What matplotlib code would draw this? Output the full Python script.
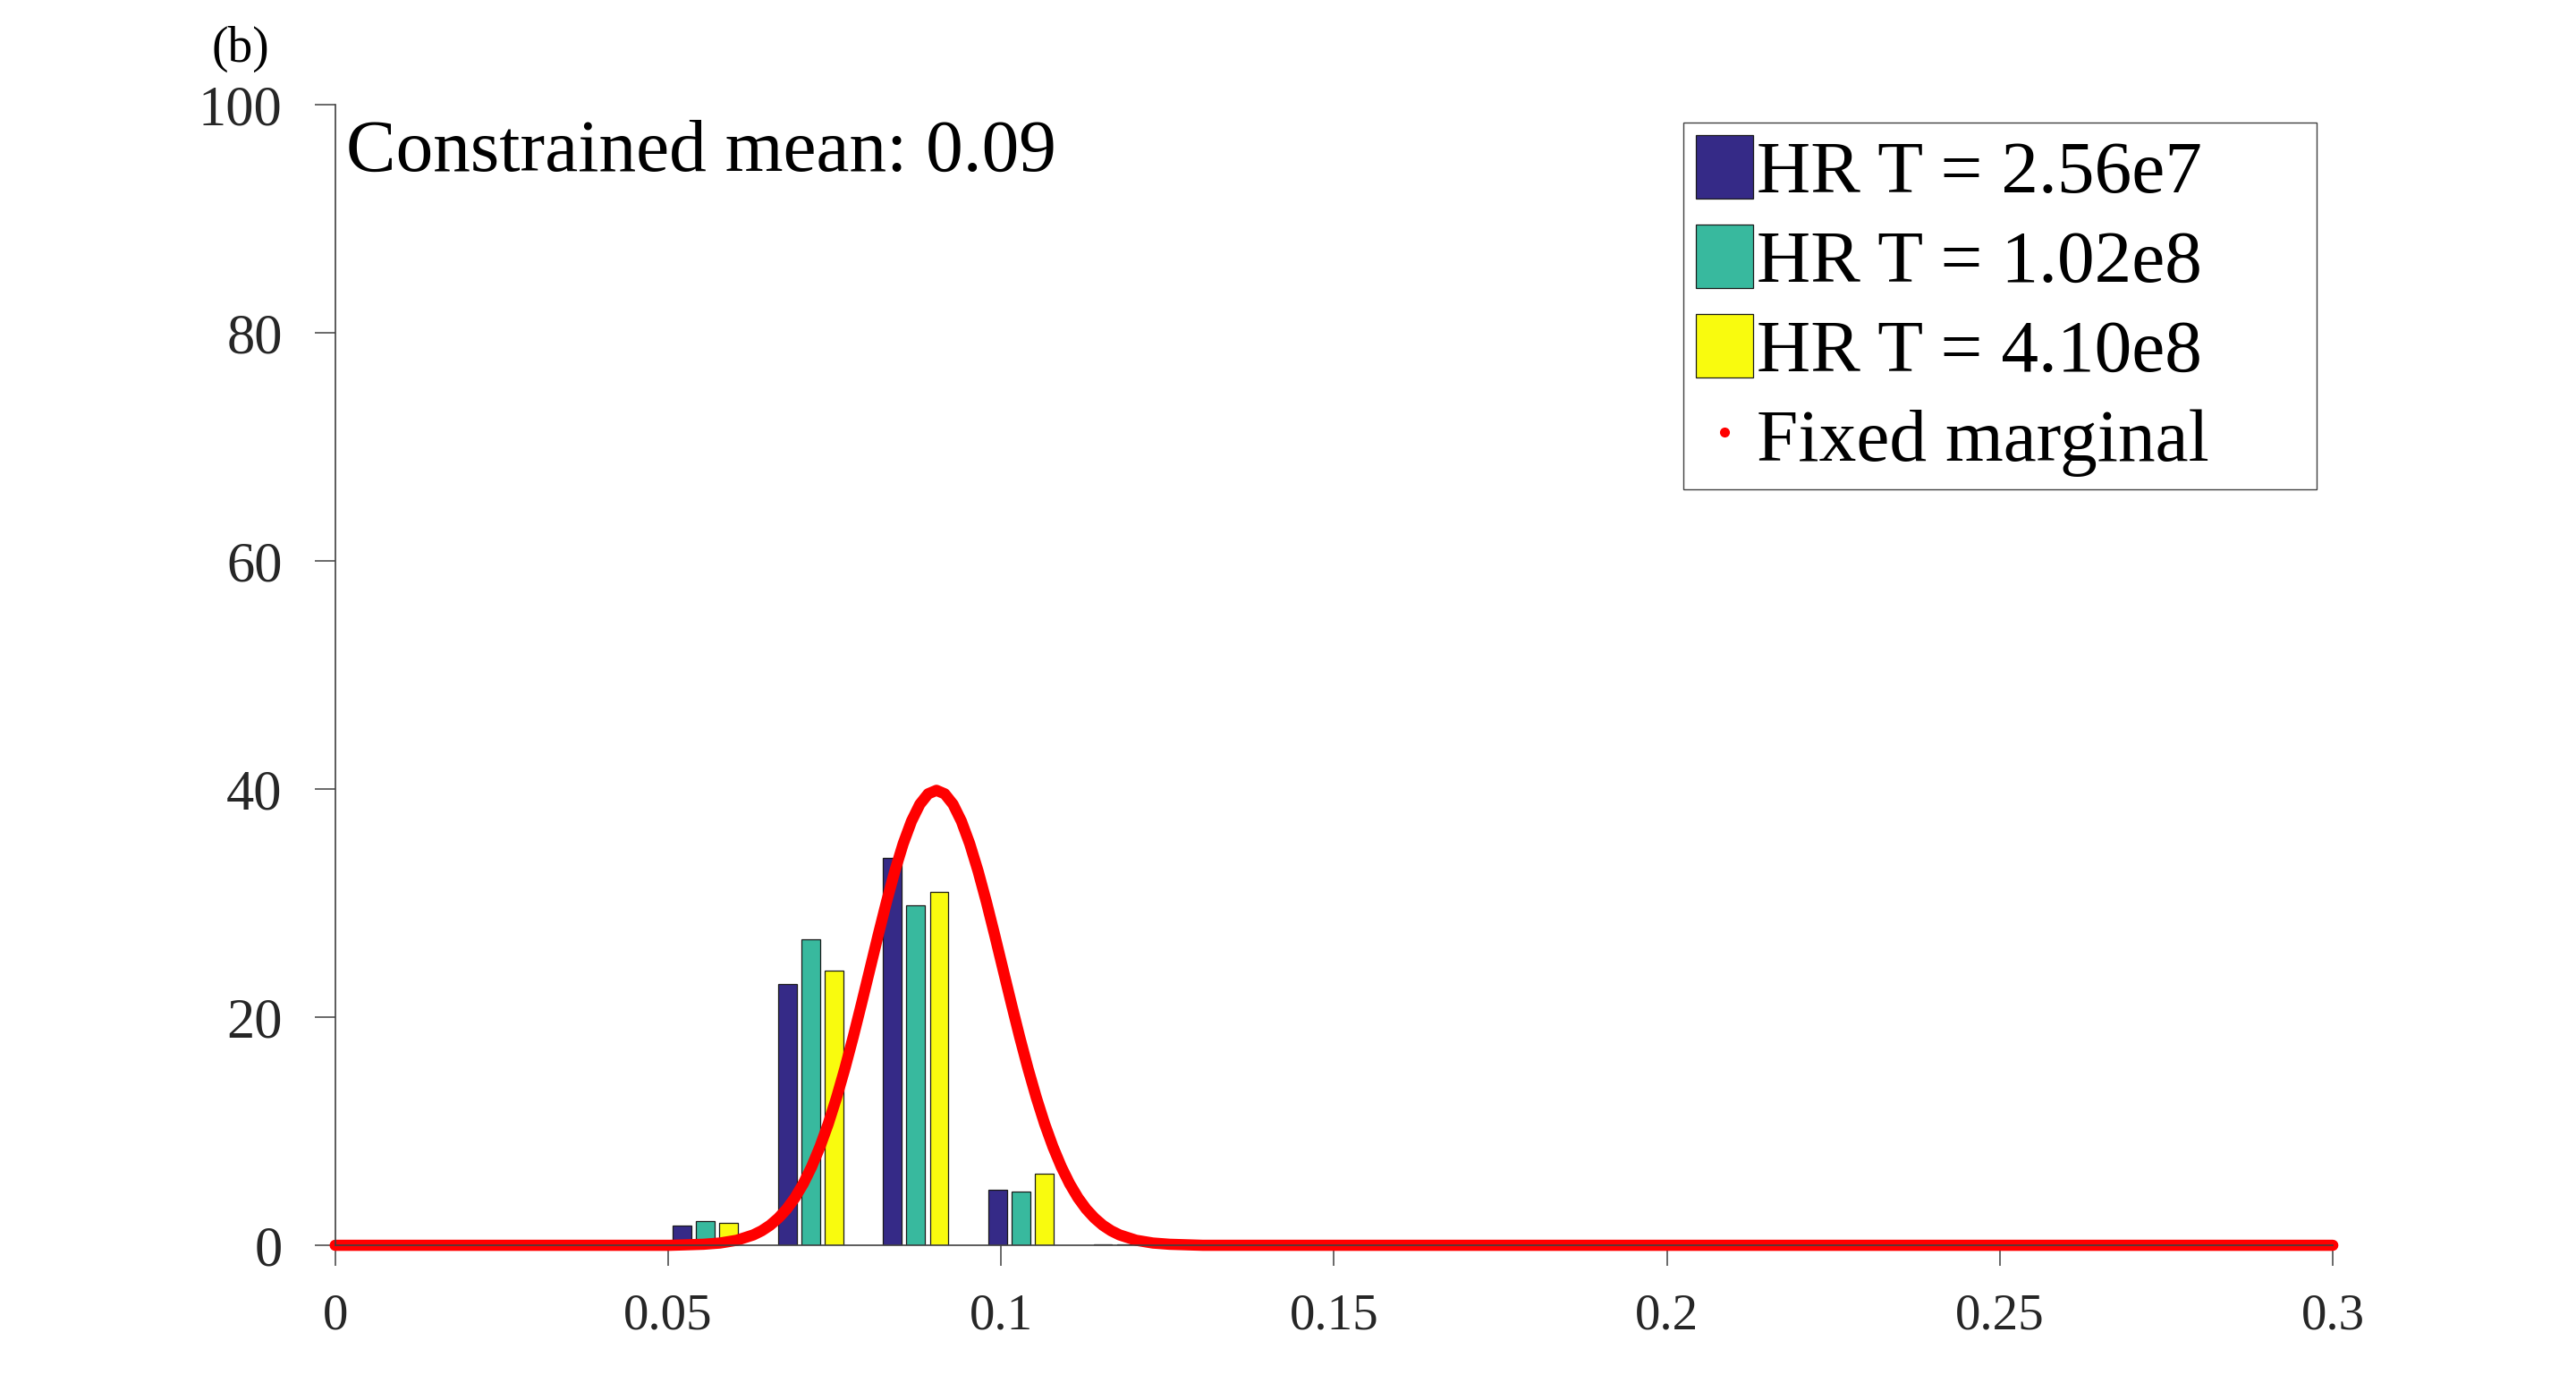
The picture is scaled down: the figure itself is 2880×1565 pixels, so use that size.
import matplotlib
matplotlib.use("Agg")
import matplotlib.pyplot as plt
from matplotlib.lines import Line2D
import numpy as np

plt.rcParams['font.family'] = ['Liberation Serif', 'DejaVu Serif']

# histogram bins (centre of each group of three bars)
bin_centers = [0.0556, 0.0714, 0.0872, 0.1030, 0.1188]
series_labels = ["HR T = 2.56e7", "HR T = 1.02e8", "HR T = 4.10e8"]
hr_256e7 = [1.7, 22.9, 34.0, 4.9, 0.12]
hr_102e8 = [2.1, 26.8, 29.8, 4.7, 0.06]
hr_410e8 = [2.0, 24.1, 31.0, 6.3, 0.0]

# fixed marginal density
curve_x = [0.0, 0.0503, 0.0553, 0.0578, 0.0603, 0.0628, 0.06405, 0.0653, 0.06655,
           0.0678, 0.06905, 0.0703, 0.07155, 0.0728, 0.07405, 0.0753, 0.07655,
           0.0778, 0.07905, 0.0803, 0.08155, 0.0828, 0.08405, 0.0853, 0.08655,
           0.0878, 0.08905, 0.0903, 0.09155, 0.0928, 0.09405, 0.0953, 0.09655,
           0.0978, 0.09905, 0.1003, 0.10155, 0.1028, 0.10405, 0.1053, 0.10655,
           0.1078, 0.10905, 0.1103, 0.11155, 0.1128, 0.11405, 0.1153, 0.11655,
           0.1178, 0.1203, 0.1228, 0.1253, 0.1303, 0.3]
curve_y = [0.0, 0.0, 0.09, 0.20, 0.44, 0.91, 1.27, 1.75, 2.38,
           3.17, 4.17, 5.40, 6.88, 8.63, 10.65, 12.95, 15.50,
           18.26, 21.19, 24.19, 27.20, 30.11, 32.81, 35.20, 37.18,
           38.66, 39.58, 39.89, 39.58, 38.66, 37.18, 35.20, 32.81,
           30.11, 27.20, 24.19, 21.19, 18.26, 15.50, 12.95, 10.65,
           8.63, 6.88, 5.40, 4.17, 3.17, 2.38, 1.75, 1.27,
           0.91, 0.44, 0.20, 0.09, 0.0, 0.0]

x_ticks = [0, 0.05, 0.1, 0.15, 0.2, 0.25, 0.3]
x_ticklabels = ["0", "0.05", "0.1", "0.15", "0.2", "0.25", "0.3"]
y_ticks = [0, 20, 40, 60, 80, 100]

COLORS = ["#352a87", "#38b99e", "#f9fb0e"]
BAR_WIDTH = 0.0028
BAR_STEP = 0.0035
AXIS_GREY = "#404040"

fig = plt.figure(figsize=(28.8, 15.65), dpi=100)
ax = fig.add_axes([0.1301, 0.1105, 0.7755, 0.8147])

centers = np.array(bin_centers)
for i, (vals, label) in enumerate(zip([hr_256e7, hr_102e8, hr_410e8], series_labels)):
    ax.bar(centers + (i - 1) * BAR_STEP, vals, BAR_WIDTH, color=COLORS[i],
           edgecolor="#1a1a1a", linewidth=0.9, label=label, zorder=1)

ax.plot(curve_x, curve_y, color="red", linewidth=9, solid_capstyle="round",
        solid_joinstyle="round", clip_on=False, zorder=2)

ax.set_xlim(0, 0.3)
ax.set_ylim(0, 100)
ax.set_xticks(x_ticks)
ax.set_xticklabels(x_ticklabels)
ax.set_yticks(y_ticks)
for side in ["top", "right"]:
    ax.spines[side].set_visible(False)
for side in ["left", "bottom"]:
    ax.spines[side].set_color(AXIS_GREY)
    ax.spines[side].set_linewidth(1.2)
    ax.spines[side].set_zorder(3)
ax.tick_params(direction="out", length=16.5, width=1.1, color=AXIS_GREY,
               labelcolor="#262626")
ax.tick_params(axis="x", labelsize=41, pad=22)
ax.tick_params(axis="y", labelsize=45, pad=26)

handles, labels = ax.get_legend_handles_labels()
handles.append(Line2D([], [], linestyle="none", marker="o", markersize=7,
                      markerfacecolor="red", markeredgecolor="red"))
labels.append("Fixed marginal")
fig.legend(handles, labels, loc="upper left", mode="expand",
           bbox_to_anchor=(0.6535, 0.9125, 0.2458, 0), bbox_transform=fig.transFigure,
           fontsize=60, fancybox=False, framealpha=1, edgecolor=AXIS_GREY,
           borderpad=0.17, borderaxespad=0, labelspacing=0.21, handlelength=0.76,
           handleheight=0.94, handletextpad=0.05)

fig.text(0.1344, 0.878, "Constrained mean: 0.09", fontsize=60, va="baseline", ha="left")
fig.text(0.0934, 0.9649, "(b)", fontsize=40, va="center", ha="center")

plt.savefig("out.png", dpi=100)
